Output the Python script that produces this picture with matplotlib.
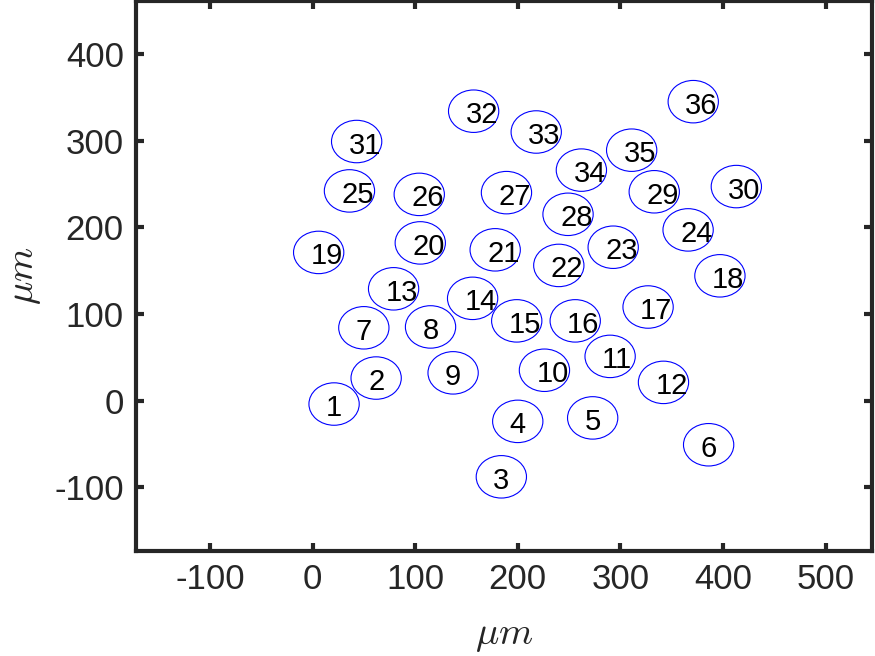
import matplotlib
matplotlib.use("Agg")
import matplotlib.pyplot as plt
from matplotlib.patches import Circle

# electrode centres (µm)
labels = [str(i) for i in range(1, 37)]
x_um = [21, 62, 184, 200, 273, 386, 50, 115, 137, 226, 290, 342,
        79, 156, 199, 256, 327, 397, 6, 105, 178, 240, 293, 366,
        36, 104, 189, 249, 333, 413, 43, 157, 218, 262, 311, 371]
y_um = [-4, 26, -88, -24, -20, -51, 84, 85, 32, 35, 51, 21,
        129, 118, 92, 92, 108, 144, 171, 182, 174, 156, 177, 197,
        242, 238, 240, 215, 241, 247, 299, 334, 310, 266, 289, 345]
radius_um = 24.5

xticks = [-100, 0, 100, 200, 300, 400, 500]
yticks = [-100, 0, 100, 200, 300, 400]
xlim = (-171.7, 545.2)
ylim = (-173.6, 461.2)

plt.rcParams['mathtext.fontset'] = 'cm'
fig = plt.figure(figsize=(8.75, 6.56), dpi=100)
ax = fig.add_axes([0.1558, 0.1601, 0.99657 - 0.1558, 0.99848 - 0.1601])

for lab, xc, yc in zip(labels, x_um, y_um):
    ax.add_patch(Circle((xc, yc), radius_um, fill=False, edgecolor='#0000ff', lw=0.8))
    ax.annotate(lab, xy=(xc, yc), xytext=(-8, -12), textcoords='offset pixels',
                ha='left', va='baseline', fontsize=21, color='black',
                family='Liberation Sans')

ax.set_xlim(*xlim)
ax.set_ylim(*ylim)
ax.set_xticks(xticks)
ax.set_yticks(yticks)
ax.set_xticklabels([str(t) for t in xticks])
ax.set_yticklabels([str(t) for t in yticks])

dark = '#262626'
for sp in ax.spines.values():
    sp.set_linewidth(3.0)
    sp.set_color(dark)
ax.tick_params(direction='in', length=5.5, width=3.0, color=dark,
               top=True, right=True, labelsize=25, labelcolor=dark, pad=9)
for t in ax.get_xticklabels() + ax.get_yticklabels():
    t.set_family('Liberation Sans')

ax.set_xlabel(r'$\mu m$', fontsize=28, color=dark, labelpad=14)
ax.set_ylabel(r'$\mu m$', fontsize=28, color=dark, labelpad=8)

fig.savefig('out.png', dpi=100)
